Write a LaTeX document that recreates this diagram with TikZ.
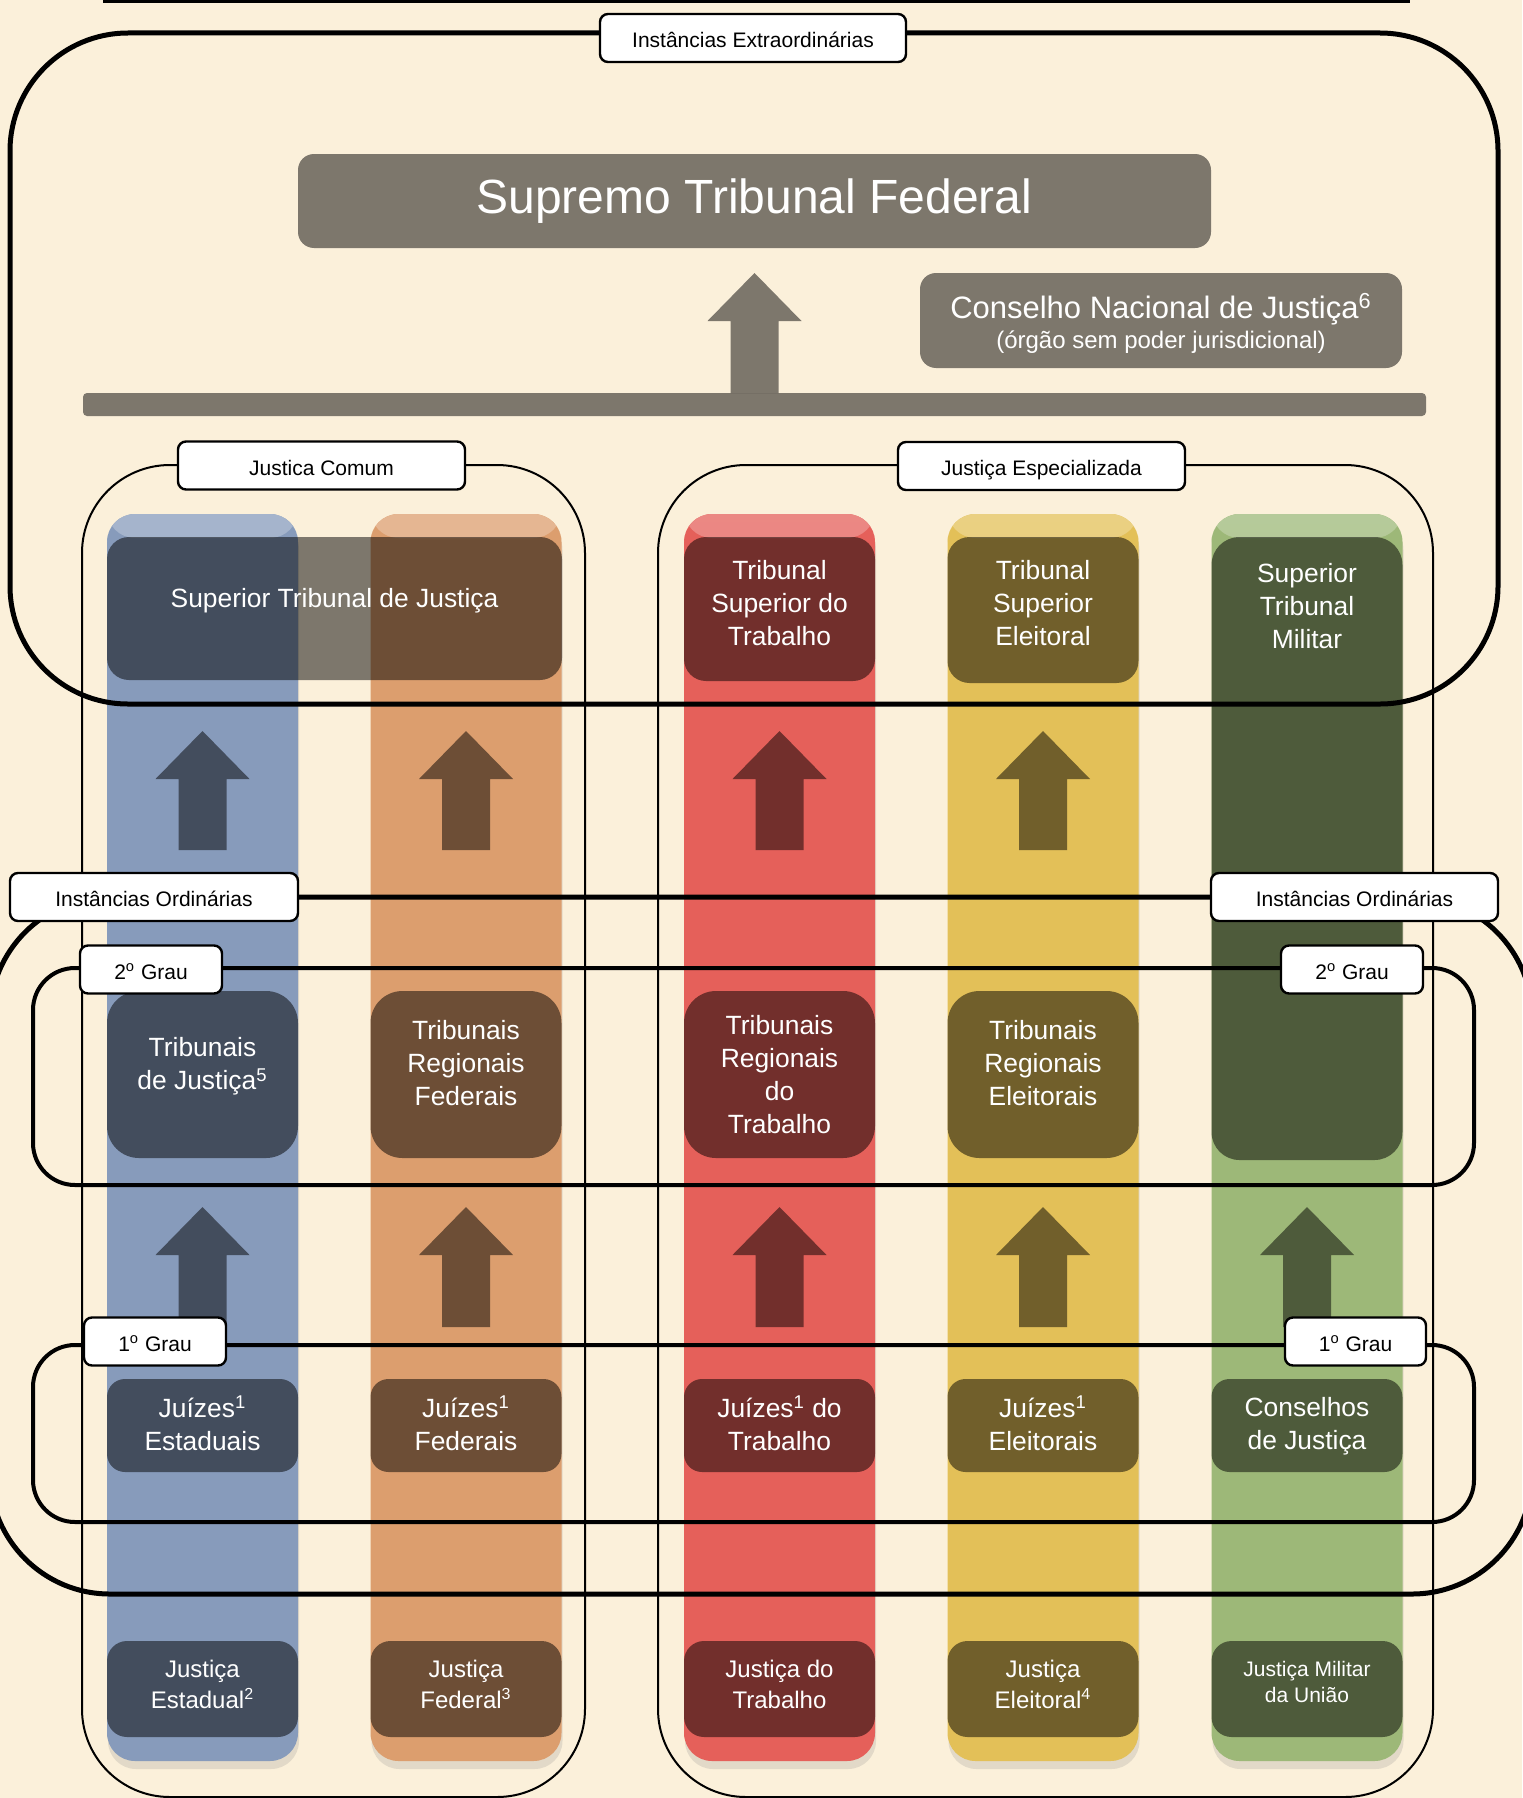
\documentclass[tikz,border=0pt]{standalone}
\usepackage{fontspec}
\setmainfont{Liberation Sans}
\usetikzlibrary{shadows}

\definecolor{paper}{HTML}{FBF0DA}
\definecolor{colA}{HTML}{879BBB}
\definecolor{colB}{HTML}{DC9E6E}
\definecolor{colC}{HTML}{E5605A}
\definecolor{colD}{HTML}{E3C058}
\definecolor{colE}{HTML}{9DB878}

\newcommand{\BlockArrow}[3]{%
  \fill[darkfill] (#1,#2) -- ({#1+47},{#2+48}) -- ({#1+24},{#2+48})
    -- ({#1+24},#3) -- ({#1-24},#3) -- ({#1-24},{#2+48})
    -- ({#1-47},{#2+48}) -- cycle;}

\begin{document}
\begin{tikzpicture}[x=0.5pt, y=-0.5pt,
  strip/.style = {fill=#1, inner sep=0pt, minimum width=95.5pt, minimum height=623.5pt, rounded corners=14pt,
                  drop shadow={opacity=0.2, shadow xshift=0.5pt, shadow yshift=-4pt},
                  path picture={\shade[top color=#1!75!white, bottom color=#1]
                    (path picture bounding box.north west) rectangle ([yshift=-12pt]path picture bounding box.north east);}},
  darkfill/.style = {fill=black, fill opacity=0.5},
  dbox/.style = {darkfill, inner sep=0pt, minimum width=95.5pt},
  txt/.style = {text=white, align=center, inner sep=0pt, font=\fontsize{13.2}{16.5}\selectfont},
  small/.style = {txt, font=\fontsize{12}{15.5}\selectfont},
  tagbox/.style = {draw, fill=white, line width=1.2pt, rounded corners=4pt, inner sep=0pt,
                   minimum height=24pt, text height=10.5pt, text depth=1pt, font=\fontsize{10.5}{12}\selectfont},
  ring/.style = {draw, line width=2.5pt},
  grau/.style = {draw, line width=2pt, rounded corners=21pt},
  justbox/.style = {draw, line width=1pt, rounded corners=44pt}]

\fill[fill=paper] (0,0) rectangle (1522,1798);
\useasboundingbox (0,0) rectangle (1522,1798);
\draw[line width=1.5pt] (103,1.5) -- (1410,1.5);

% colunas
\node[strip=colA] (C1) at (202.5,1137.5) {};
\node[strip=colB] (C2) at (466,1137.5) {};
\node[strip=colC] (C3) at (779.5,1137.5) {};
\node[strip=colD] (C4) at (1043,1137.5) {};
\node[strip=colE] (C5) at (1307,1137.5) {};

% tribunais superiores
\node[dbox, rounded corners=11pt, minimum width=227.5pt, minimum height=71.5pt,
  label={[txt, yshift=4pt]center:Superior Tribunal de Justiça}] (S1) at (334.5,608.5) {};
\node[dbox, rounded corners=11pt, minimum height=72pt,
  label={[txt, yshift=3pt]center:{Tribunal\\Superior do\\Trabalho}}] (S2) at (779.5,609) {};
\node[dbox, rounded corners=11pt, minimum height=73pt,
  label={[txt, yshift=3.5pt]center:{Tribunal\\Superior\\Eleitoral}}] (S3) at (1043,610) {};
\node[dbox, rounded corners=14pt, minimum height=311.5pt] (S4) at (1307,848.5) {};
\node[txt] (S4t) at (1307,606) {Superior\\Tribunal\\Militar};

% 2o grau
\node[dbox, rounded corners=16pt, minimum height=83.5pt,
  label={[txt, yshift=4pt]center:{Tribunais\\de Justiça\textsuperscript{5}}}] (R1) at (202.5,1074.5) {};
\node[dbox, rounded corners=16pt, minimum height=83.5pt,
  label={[txt, yshift=5.5pt]center:{Tribunais\\Regionais\\Federais}}] (R2) at (466,1074.5) {};
\node[dbox, rounded corners=16pt, minimum height=83.5pt,
  label={[txt]center:{Tribunais\\Regionais\\do\\Trabalho}}] (R3) at (779.5,1074.5) {};
\node[dbox, rounded corners=16pt, minimum height=83.5pt,
  label={[txt, yshift=5.5pt]center:{Tribunais\\Regionais\\Eleitorais}}] (R4) at (1043,1074.5) {};

% 1o grau
\node[dbox, rounded corners=9pt, minimum height=46.5pt,
  label={[txt, yshift=1pt]center:{Juízes\textsuperscript{1}\\Estaduais}}] (J1) at (202.5,1425.5) {};
\node[dbox, rounded corners=9pt, minimum height=46.5pt,
  label={[txt, yshift=1pt]center:{Juízes\textsuperscript{1}\\Federais}}] (J2) at (466,1425.5) {};
\node[dbox, rounded corners=9pt, minimum height=46.5pt,
  label={[txt, yshift=1pt]center:{Juízes\textsuperscript{1} do\\Trabalho}}] (J3) at (779.5,1425.5) {};
\node[dbox, rounded corners=9pt, minimum height=46.5pt,
  label={[txt, yshift=1pt]center:{Juízes\textsuperscript{1}\\Eleitorais}}] (J4) at (1043,1425.5) {};
\node[dbox, rounded corners=9pt, minimum height=46.5pt,
  label={[txt, yshift=-0.5pt]center:{Conselhos\\de Justiça}}] (J5) at (1307,1425.5) {};

% ramos
\node[dbox, rounded corners=10pt, minimum height=48pt,
  label={[small, yshift=2.5pt]center:{Justiça\\Estadual\textsuperscript{2}}}] (B1) at (202.5,1689) {};
\node[dbox, rounded corners=10pt, minimum height=48pt,
  label={[small, yshift=2.5pt]center:{Justiça\\Federal\textsuperscript{3}}}] (B2) at (466,1689) {};
\node[dbox, rounded corners=10pt, minimum height=48pt,
  label={[small, yshift=2.5pt]center:{Justiça do\\Trabalho}}] (B3) at (779.5,1689) {};
\node[dbox, rounded corners=10pt, minimum height=48pt,
  label={[small, yshift=2.5pt]center:{Justiça\\Eleitoral\textsuperscript{4}}}] (B4) at (1043,1689) {};
\node[dbox, rounded corners=10pt, minimum height=48pt,
  label={[txt, font=\fontsize{10.5}{13}\selectfont, yshift=3.5pt]center:{Justiça Militar\\da União}}] (B5) at (1307,1689) {};

% setas
\BlockArrow{202.5}{731}{850}
\BlockArrow{466}{731}{850}
\BlockArrow{779.5}{731}{850}
\BlockArrow{1043}{731}{850}
\BlockArrow{202.5}{1207}{1327}
\BlockArrow{466}{1207}{1327}
\BlockArrow{779.5}{1207}{1327}
\BlockArrow{1043}{1207}{1327}
\BlockArrow{1307}{1207}{1327}
\BlockArrow{754.5}{273}{393}

% topo
\node[dbox, rounded corners=8pt, minimum width=456.5pt, minimum height=47pt,
  label={[txt, font=\fontsize{24}{28}\selectfont]center:Supremo Tribunal Federal}] (STF) at (754.5,201) {};
\node[dbox, rounded corners=8pt, minimum width=241pt, minimum height=47.5pt,
  label={[txt, font=\fontsize{15.5}{15}\selectfont, yshift=-1.5pt]center:{Conselho Nacional de Justiça\textsuperscript{6}\\{\fontsize{12}{14}\selectfont(órgão sem poder jurisdicional)}}}] (CNJ) at (1161,320.5) {};
\node[dbox, rounded corners=2pt, minimum width=671.5pt, minimum height=11.5pt] (bar) at (754.5,404.5) {};

% molduras
\draw[ring, rounded corners=59pt] (10,33) rectangle (1498,704);
\draw[ring, rounded corners=60pt] (-10,897) rectangle (1532,1594);
\draw[justbox] (82,465) rectangle (585,1797);
\draw[justbox] (658,465) rectangle (1433,1797);
\draw[grau] (33,968) rectangle (1474,1185);
\draw[grau] (33,1345) rectangle (1474,1522);

% rotulos
\node[tagbox, minimum width=153pt] (L1) at (753,38) {Instâncias Extraordinárias};
\node[tagbox, minimum width=143.5pt] (L2) at (321.5,465.5) {Justica Comum};
\node[tagbox, minimum width=143.5pt] (L3) at (1041.5,466) {Justiça Especializada};
\node[tagbox, minimum width=144pt] (L4) at (154,897) {Instâncias Ordinárias};
\node[tagbox, minimum width=143.5pt] (L5) at (1354.5,897) {Instâncias Ordinárias};
\node[tagbox, minimum width=71pt] (L6) at (151,969.5) {2\textsuperscript{o} Grau};
\node[tagbox, minimum width=71pt] (L7) at (1352,969.5) {2\textsuperscript{o} Grau};
\node[tagbox, minimum width=71pt] (L8) at (155,1341.5) {1\textsuperscript{o} Grau};
\node[tagbox, minimum width=70.5pt] (L9) at (1355.5,1341.5) {1\textsuperscript{o} Grau};

\end{tikzpicture}
\end{document}
